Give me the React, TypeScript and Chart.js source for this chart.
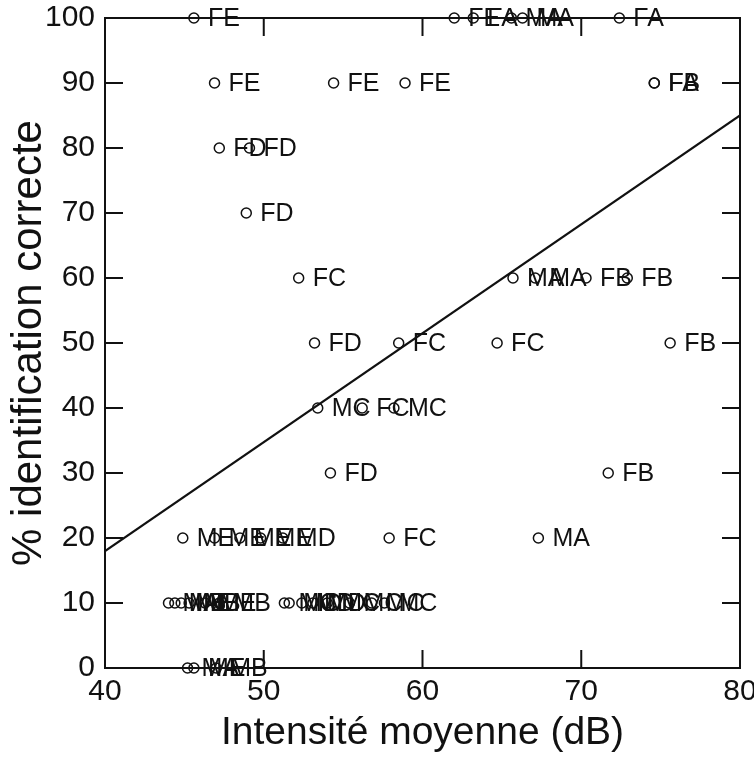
import { useEffect, useRef } from "react";
import { Chart, registerables } from "chart.js";

Chart.register(...registerables);

// Scatter points: mean intensity (dB), % correct identification, stimulus label
const xValues = [
  45.6, 62.0, 63.2, 65.6, 66.3, 72.4,
  46.9, 54.4, 58.9, 74.6, 74.6,
  47.2, 49.1,
  48.9,
  52.2, 65.7, 67.1, 70.3, 72.9,
  53.2, 58.5, 64.7, 75.6,
  53.4, 56.2, 58.2,
  54.2, 71.7,
  44.9, 46.9, 48.5, 49.8, 51.2, 57.9, 67.3,
  44.0, 44.4, 44.8, 45.3, 46.3, 47.2,
  51.3, 51.6, 52.4, 53.1, 54.0, 55.4, 56.8, 57.6,
  45.2, 45.6, 47.0,
];
const yValues = [
  100, 100, 100, 100, 100, 100,
  90, 90, 90, 90, 90,
  80, 80,
  70,
  60, 60, 60, 60, 60,
  50, 50, 50, 50,
  40, 40, 40,
  30, 30,
  20, 20, 20, 20, 20, 20, 20,
  10, 10, 10, 10, 10, 10,
  10, 10, 10, 10, 10, 10, 10, 10,
  0, 0, 0,
];
const pointLabels = [
  "FE", "FE", "FA", "MA", "MA", "FA",
  "FE", "FE", "FE", "FB", "FA",
  "FD", "FD",
  "FD",
  "FC", "MA", "MA", "FB", "FB",
  "FD", "FC", "FC", "FB",
  "MC", "FC", "MC",
  "FD", "FB",
  "ME", "ME", "ME", "ME", "MD", "FC", "MA",
  "MA", "MB", "ME", "MB", "ME", "MB",
  "MC", "MD", "MD", "MD", "MC", "MC", "MC", "MC",
  "MA", "ME", "MB",
];

// Regression line end points
const fitX = [40, 80];
const fitY = [18, 85];

const xTickValues = [40, 50, 60, 70, 80];
const yTickValues = [0, 10, 20, 30, 40, 50, 60, 70, 80, 90, 100];

const FONT = "'Liberation Sans', Arial, sans-serif";

const labelPlugin = {
  id: "pointLabels",
  afterDatasetsDraw(chart: any) {
    const ctx = chart.ctx;
    const meta = chart.getDatasetMeta(0);
    ctx.save();
    ctx.font = `25px ${FONT}`;
    ctx.fillStyle = "#111";
    ctx.textAlign = "left";
    ctx.textBaseline = "middle";
    meta.data.forEach((el: any, i: number) => {
      ctx.fillText(pointLabels[i], el.x + 14, el.y + 1);
    });
    ctx.restore();
  },
};

const framePlugin = {
  id: "frameTicks",
  afterDraw(chart: any) {
    const { ctx, chartArea: a, scales } = chart;
    const len = 18;
    ctx.save();
    ctx.strokeStyle = "#111";
    ctx.lineWidth = 2;
    ctx.strokeRect(a.left, a.top, a.right - a.left, a.bottom - a.top);
    ctx.beginPath();
    xTickValues.forEach((v) => {
      const px = scales.x.getPixelForValue(v);
      ctx.moveTo(px, a.bottom);
      ctx.lineTo(px, a.bottom - len);
      ctx.moveTo(px, a.top);
      ctx.lineTo(px, a.top + len);
    });
    yTickValues.forEach((v) => {
      const py = scales.y.getPixelForValue(v);
      ctx.moveTo(a.left, py);
      ctx.lineTo(a.left + len, py);
      ctx.moveTo(a.right, py);
      ctx.lineTo(a.right - len, py);
    });
    ctx.stroke();
    ctx.restore();
  },
};

export default function App() {
  const ref = useRef<HTMLCanvasElement>(null);
  useEffect(() => {
    const chart = new Chart(ref.current as HTMLCanvasElement, {
      type: "scatter",
      data: {
        datasets: [
          {
            data: xValues.map((x, i) => ({ x, y: yValues[i] })),
            pointStyle: "circle",
            pointRadius: 5,
            pointHoverRadius: 5,
            borderColor: "#111",
            backgroundColor: "rgba(0,0,0,0)",
            borderWidth: 1.5,
            clip: false,
          } as any,
          {
            type: "line",
            data: fitX.map((x, i) => ({ x, y: fitY[i] })),
            borderColor: "#111",
            borderWidth: 2.2,
            pointRadius: 0,
            showLine: true,
            fill: false,
          } as any,
        ],
      },
      options: {
        animation: false,
        responsive: false,
        layout: { padding: { top: 18, right: 14, left: 0, bottom: 0 } },
        plugins: { legend: { display: false }, tooltip: { enabled: false } },
        scales: {
          x: {
            type: "linear",
            min: 40,
            max: 80,
            afterFit: (s: any) => {
              s.height = 93;
              s.paddingLeft = 0;
              s.paddingRight = 0;
            },
            ticks: {
              stepSize: 10,
              color: "#111",
              font: { family: FONT, size: 30 },
              padding: 6,
            },
            grid: { display: false, drawTicks: false },
            border: { display: false },
            title: {
              display: true,
              text: "Intensité moyenne (dB)",
              color: "#111",
              font: { family: FONT, size: 39 },
              padding: { top: 0, bottom: 4 },
            },
          },
          y: {
            type: "linear",
            min: 0,
            max: 100,
            afterFit: (s: any) => {
              s.width = 105;
              s.paddingTop = 0;
              s.paddingBottom = 0;
            },
            ticks: {
              stepSize: 10,
              color: "#111",
              font: { family: FONT, size: 30 },
              padding: 10,
            },
            grid: { display: false, drawTicks: false },
            border: { display: false },
            title: {
              display: true,
              text: "% identification correcte",
              color: "#111",
              font: { family: FONT, size: 42 },
              padding: { top: 4, bottom: 0 },
            },
          },
        },
      },
      plugins: [labelPlugin, framePlugin],
    });
    return () => chart.destroy();
  }, []);
  return (
    <div style={{ position: "fixed", left: 0, top: 0, width: 754, height: 761, background: "#fff" }}>
      <canvas ref={ref} width={754} height={761} style={{ width: 754, height: 761 }} />
    </div>
  );
}
